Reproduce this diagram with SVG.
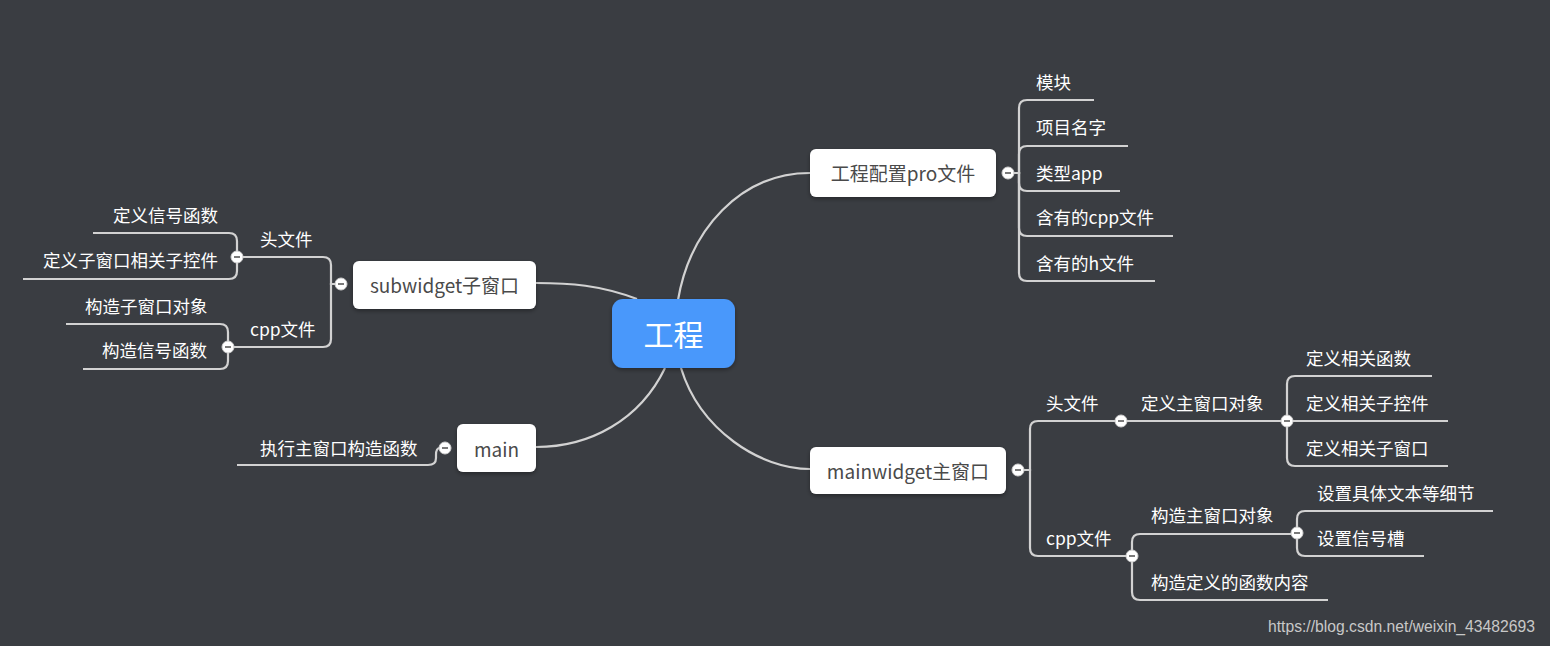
<svg xmlns="http://www.w3.org/2000/svg" width="1550" height="646" viewBox="0 0 1550 646">
<defs>
<filter id="sh" x="-20%" y="-20%" width="140%" height="150%"><feDropShadow dx="0" dy="2" stdDeviation="2" flood-color="#000" flood-opacity="0.35"/></filter>
</defs>
<style>
.bg{fill:#3a3d42}
.ln{fill:none;stroke:#d2d2d2;stroke-width:2.2}
.node rect{fill:#fff}
.nt{font-family:"Noto Sans CJK SC","Noto Sans",sans-serif;font-size:19px;fill:#4a4a4a;text-anchor:middle;dominant-baseline:central}
.lt{font-family:"Noto Sans CJK SC","Noto Sans",sans-serif;font-size:17.5px;fill:#ffffff;dominant-baseline:central}
.cc{fill:#fff;stroke:#cfcfcf;stroke-width:1}
.cm{stroke:#7a7a7a;stroke-width:2}
</style>
<rect class="bg" x="0" y="0" width="1550" height="646"/>
<g id="connectors">
<path class="ln" d="M678,300 C690,230 740,173 810,173"/>
<path class="ln" d="M637,299 C600,285 570,283 536,283"/>
<path class="ln" d="M665,368 C640,420 590,447 536,447"/>
<path class="ln" d="M681,368 C700,430 760,469 810,469"/>
<path class="ln" d="M1014,173 H1019 V108 Q1019,100 1027,100 H1094"/>
<path class="ln" d="M1014,173 H1019 V154 Q1019,146 1027,146 H1128"/>
<path class="ln" d="M1014,173 H1019 V183 Q1019,191 1027,191 H1120"/>
<path class="ln" d="M1014,173 H1019 V228 Q1019,236 1027,236 H1173"/>
<path class="ln" d="M1014,173 H1019 V273 Q1019,281 1027,281 H1155"/>
<path class="ln" d="M335,284 H331 V265 Q331,257 323,257 H243"/>
<path class="ln" d="M335,284 H331 V339 Q331,347 323,347 H234"/>
<path class="ln" d="M237,257 V241 Q237,233 229,233 H93"/>
<path class="ln" d="M237,257 V271 Q237,279 229,279 H23"/>
<path class="ln" d="M228,347 V332 Q228,324 220,324 H66"/>
<path class="ln" d="M228,347 V361 Q228,369 220,369 H83"/>
<path class="ln" d="M440,448 Q436,448 436,455 V458 Q436,465 428,465 H237"/>
<path class="ln" d="M1024,470 H1030 V429 Q1030,421 1038,421 H1287"/>
<path class="ln" d="M1024,470 H1030 V548 Q1030,556 1038,556 H1132"/>
<path class="ln" d="M1287,421 V384 Q1287,376 1295,376 H1432"/>
<path class="ln" d="M1287,421 H1448"/>
<path class="ln" d="M1287,421 V458 Q1287,466 1295,466 H1448"/>
<path class="ln" d="M1132,556 V542 Q1132,534 1140,534 H1297"/>
<path class="ln" d="M1132,556 V592 Q1132,600 1140,600 H1328"/>
<path class="ln" d="M1297,533 V519 Q1297,511 1305,511 H1493"/>
<path class="ln" d="M1297,533 V548 Q1297,556 1305,556 H1424"/>
</g>
<g id="collapse">
<g><circle class="cc" cx="1008" cy="173" r="6"/><line class="cm" x1="1005" y1="173" x2="1011" y2="173"/></g>
<g><circle class="cc" cx="341" cy="284" r="6"/><line class="cm" x1="338" y1="284" x2="344" y2="284"/></g>
<g><circle class="cc" cx="237" cy="257" r="6"/><line class="cm" x1="234" y1="257" x2="240" y2="257"/></g>
<g><circle class="cc" cx="228" cy="347" r="6"/><line class="cm" x1="225" y1="347" x2="231" y2="347"/></g>
<g><circle class="cc" cx="445" cy="448" r="6"/><line class="cm" x1="442" y1="448" x2="448" y2="448"/></g>
<g><circle class="cc" cx="1018" cy="470" r="6"/><line class="cm" x1="1015" y1="470" x2="1021" y2="470"/></g>
<g><circle class="cc" cx="1121" cy="421" r="6"/><line class="cm" x1="1118" y1="421" x2="1124" y2="421"/></g>
<g><circle class="cc" cx="1287" cy="421" r="6"/><line class="cm" x1="1284" y1="421" x2="1290" y2="421"/></g>
<g><circle class="cc" cx="1132" cy="556" r="6"/><line class="cm" x1="1129" y1="556" x2="1135" y2="556"/></g>
<g><circle class="cc" cx="1297" cy="533" r="6"/><line class="cm" x1="1294" y1="533" x2="1300" y2="533"/></g>
</g>
<g id="root">
<rect x="612" y="299" width="123" height="69" rx="11" fill="#4a98fb" filter="url(#sh)"/>
<text x="673.5" y="333" font-family="'Noto Sans CJK SC','Noto Sans',sans-serif" font-size="30" fill="#fff" text-anchor="middle" dominant-baseline="central">工程</text>
</g>
<g id="n-pro" class="node"><rect x="810" y="149" width="186" height="48" rx="6" filter="url(#sh)"/><text class="nt" x="903" y="172">工程配置pro文件</text></g>
<g id="n-sub" class="node"><rect x="353" y="261" width="183" height="48" rx="6" filter="url(#sh)"/><text class="nt" x="444.5" y="284">subwidget子窗口</text></g>
<g id="n-main" class="node"><rect x="457" y="424" width="79" height="48" rx="6" filter="url(#sh)"/><text class="nt" x="496.5" y="448">main</text></g>
<g id="n-mainwidget" class="node"><rect x="810" y="447" width="196" height="47" rx="6" filter="url(#sh)"/><text class="nt" x="908" y="470">mainwidget主窗口</text></g>
<g id="labels">
<g id="l-mokuai"><text class="lt" x="1036" y="81">模块</text></g>
<g id="l-xmmz"><text class="lt" x="1036" y="126">项目名字</text></g>
<g id="l-lxapp"><text class="lt" x="1036" y="172">类型app</text></g>
<g id="l-cpp"><text class="lt" x="1036" y="216">含有的cpp文件</text></g>
<g id="l-h"><text class="lt" x="1036" y="262">含有的h文件</text></g>
<g id="l-stou"><text class="lt" x="260" y="238">头文件</text></g>
<g id="l-scpp"><text class="lt" x="250" y="328">cpp文件</text></g>
<g id="l-s1"><text class="lt" x="113" y="214">定义信号函数</text></g>
<g id="l-s2"><text class="lt" x="43" y="259">定义子窗口相关子控件</text></g>
<g id="l-s3"><text class="lt" x="85" y="305">构造子窗口对象</text></g>
<g id="l-s4"><text class="lt" x="102" y="349">构造信号函数</text></g>
<g id="l-m1"><text class="lt" x="260" y="447">执行主窗口构造函数</text></g>
<g id="l-mtou"><text class="lt" x="1046" y="402">头文件</text></g>
<g id="l-mdef"><text class="lt" x="1141" y="402">定义主窗口对象</text></g>
<g id="l-md1"><text class="lt" x="1306" y="357">定义相关函数</text></g>
<g id="l-md2"><text class="lt" x="1306" y="402">定义相关子控件</text></g>
<g id="l-md3"><text class="lt" x="1306" y="447">定义相关子窗口</text></g>
<g id="l-mcpp"><text class="lt" x="1046" y="537">cpp文件</text></g>
<g id="l-mc1"><text class="lt" x="1151" y="514">构造主窗口对象</text></g>
<g id="l-mc11"><text class="lt" x="1317" y="492">设置具体文本等细节</text></g>
<g id="l-mc12"><text class="lt" x="1317" y="537">设置信号槽</text></g>
<g id="l-mc2"><text class="lt" x="1151" y="581">构造定义的函数内容</text></g>
</g>
<text x="1268" y="626" font-family="'Liberation Sans',Arial,sans-serif" font-size="15.7" fill="#c8c8c8" dominant-baseline="central">https://blog.csdn.net/weixin_43482693</text>
</svg>
